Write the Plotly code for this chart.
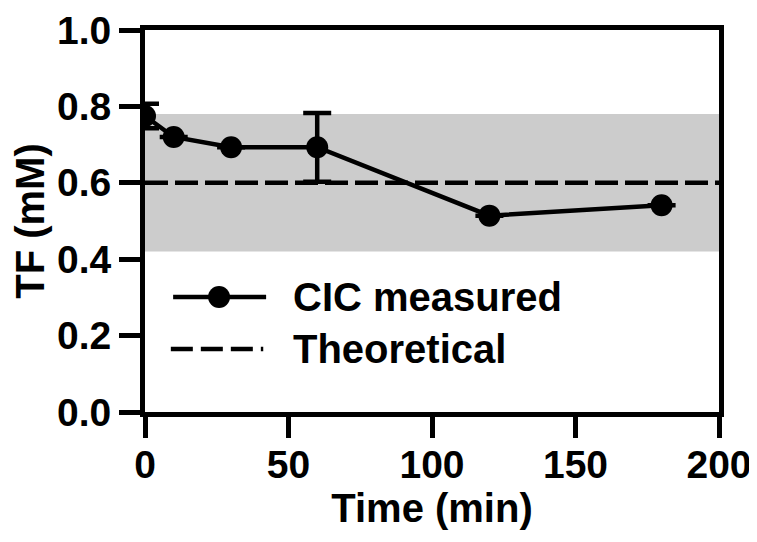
import plotly.graph_objects as go

# Data
time_min = [0, 10, 30, 60, 120, 180]
tf_measured = [0.775, 0.72, 0.693, 0.693, 0.514, 0.541]
tf_err = [0.032, 0, 0, 0.09, 0, 0]
theoretical_x = [0, 200]
theoretical_y = [0.6, 0.6]
band_low = 0.42
band_high = 0.78
x_ticks = [0, 50, 100, 150, 200]
y_ticks = [0.0, 0.2, 0.4, 0.6, 0.8, 1.0]
y_ticklabels = ["0.0", "0.2", "0.4", "0.6", "0.8", "1.0"]
legend_labels = ["CIC measured", "Theoretical"]

FONT = "Liberation Sans, Arial, Helvetica, sans-serif"

fig = go.Figure()

# Gray band
fig.add_trace(go.Scatter(
    x=[theoretical_x[0], theoretical_x[1], theoretical_x[1], theoretical_x[0]],
    y=[band_low, band_low, band_high, band_high],
    fill="toself", fillcolor="#cccccc", line=dict(width=0),
    mode="lines", hoverinfo="skip", showlegend=False))

# Theoretical dashed line
fig.add_trace(go.Scatter(
    x=theoretical_x, y=theoretical_y, mode="lines",
    line=dict(color="black", width=4.5, dash="23px,7px"),
    showlegend=False))

# Measured
fig.add_trace(go.Scatter(
    x=time_min, y=tf_measured, mode="lines+markers",
    line=dict(color="black", width=4.5),
    marker=dict(color="black", size=22),
    error_y=dict(type="data", array=tf_err, visible=True,
                 color="black", thickness=4.5, width=14),
    showlegend=False))

# Manual legend (paper coordinates)
shapes = []
y1, y2 = 0.301, 0.165
shapes.append(dict(type="line", xref="paper", yref="paper",
                   x0=0.049, x1=0.211, y0=y1, y1=y1,
                   line=dict(color="black", width=4.5)))
shapes.append(dict(type="circle", xref="paper", yref="paper",
                   xsizemode="pixel", ysizemode="pixel",
                   xanchor=0.129, yanchor=y1,
                   x0=-11, x1=11, y0=-11, y1=11,
                   fillcolor="black", line=dict(color="black", width=0)))
shapes.append(dict(type="line", xref="paper", yref="paper",
                   x0=0.045, x1=0.206, y0=y2, y1=y2,
                   line=dict(color="black", width=4.5, dash="22px,8px")))

annotations = []
for lbl, yy in zip(legend_labels, [y1, y2]):
    annotations.append(dict(text=lbl, xref="paper", yref="paper",
                            x=0.254, y=yy, xanchor="left", yanchor="middle",
                            showarrow=False,
                            font=dict(family=FONT, size=40, color="black",
                                      weight="bold")))

fig.update_layout(
    width=757, height=542,
    margin=dict(l=137, r=46, t=22, b=138, autoexpand=False),
    plot_bgcolor="white", paper_bgcolor="white",
    shapes=shapes, annotations=annotations,
    font=dict(family=FONT, color="black", weight="bold"),
    showlegend=False,
)

fig.update_xaxes(
    range=[0, 200], tickvals=x_ticks, automargin=False,
    showgrid=False, zeroline=False,
    showline=True, linecolor="black", linewidth=5, mirror=True,
    ticks="outside", ticklen=21, tickwidth=4.5, tickcolor="black",
    ticklabelstandoff=-7,
    tickfont=dict(family=FONT, size=39, color="black", weight="bold"),
    title=dict(text="Time (min)", standoff=4,
               font=dict(family=FONT, size=40, color="black", weight="bold")),
)
fig.update_yaxes(
    range=[0, 1.0], tickvals=y_ticks, ticktext=y_ticklabels, automargin=False,
    showgrid=False, zeroline=False,
    showline=True, linecolor="black", linewidth=5, mirror=True,
    ticks="outside", ticklen=21, tickwidth=4.5, tickcolor="black",
    tickfont=dict(family=FONT, size=39, color="black", weight="bold"),
    title=dict(text="TF (mM)", standoff=10,
               font=dict(family=FONT, size=40, color="black", weight="bold")),
)

fig.write_html("out.html")
